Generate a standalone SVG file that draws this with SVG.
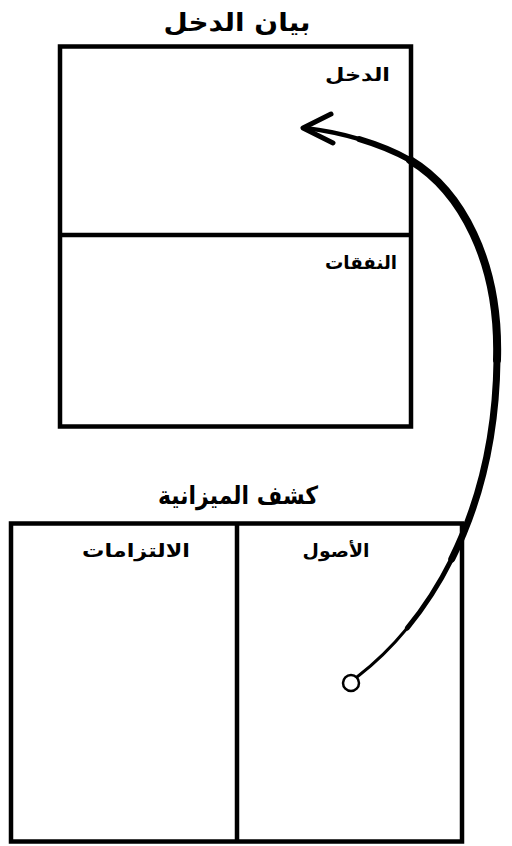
<svg xmlns="http://www.w3.org/2000/svg" width="512" height="846" viewBox="0 0 512 846">
<style>
.box{fill:none;stroke:#000;stroke-width:4.5}
.title{font-family:"DejaVu Sans",sans-serif;font-weight:bold;font-size:25px;fill:#000}
.lbl{font-family:"DejaVu Sans",sans-serif;font-weight:bold;font-size:18px;fill:#000}
.arr{fill:none;stroke:#000;stroke-linecap:round;stroke-linejoin:round}
</style>
<rect width="512" height="846" fill="#fff"/>
<g id="income-statement">
<text class="title" x="237" y="31" text-anchor="middle" direction="rtl" textLength="147" lengthAdjust="spacingAndGlyphs">بيان الدخل</text>
<rect class="box" x="60" y="46.5" width="351" height="380"/>
<line class="box" x1="60" y1="235" x2="411" y2="235"/>
<text class="lbl" x="357.5" y="81" text-anchor="middle" direction="rtl" textLength="65" lengthAdjust="spacingAndGlyphs">الدخل</text>
<text class="lbl" x="361" y="269" text-anchor="middle" direction="rtl" textLength="72" lengthAdjust="spacingAndGlyphs">النفقات</text>
</g>
<g id="balance-sheet">
<text class="title" x="238" y="504" text-anchor="middle" direction="rtl" textLength="160" lengthAdjust="spacingAndGlyphs">كشف الميزانية</text>
<rect class="box" x="11" y="523.5" width="451" height="318"/>
<line class="box" x1="237" y1="523.5" x2="237" y2="841.5"/>
<text class="lbl" x="136" y="557" text-anchor="middle" direction="rtl" textLength="108" lengthAdjust="spacingAndGlyphs">الالتزامات</text>
<text class="lbl" x="336" y="557" text-anchor="middle" direction="rtl" textLength="67" lengthAdjust="spacingAndGlyphs">الأصول</text>
</g>
<g id="connectors">
<circle cx="351" cy="683" r="8" fill="#fff" stroke="#000" stroke-width="2.5"/>
<path class="arr" stroke-width="3" d="M357,677 C374,664 391.13,647.69 407.29,628.03"/>
<path class="arr" stroke-width="5" d="M407.29,628.03 C423.44,608.37 438.63,585.37 451.75,559"/>
<path class="arr" stroke-width="7" d="M451.75,559 C478,506.25 496,440 497,360"/>
<path class="arr" stroke-width="8" d="M497,360 C500,260 460,190 410,160"/>
<path class="arr" stroke-width="6" d="M410,160 C395,151.5 377.5,144.5 359.4,139.1"/>
<path class="arr" stroke-width="4.5" d="M359.4,139.1 C341.25,133.75 322.5,130 305,128"/>
<polyline class="arr" stroke-width="5" points="331,114 303,128 333,143"/>
</g>
</svg>
